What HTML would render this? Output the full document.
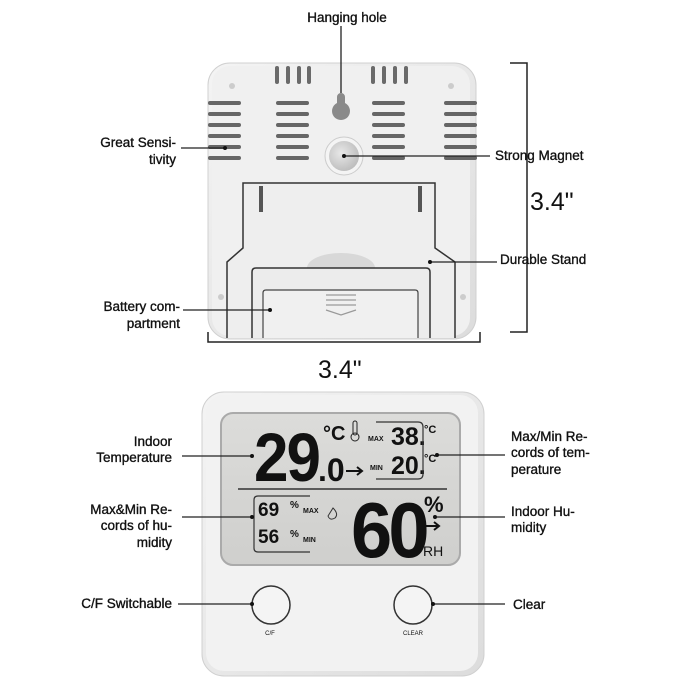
<!DOCTYPE html>
<html><head><meta charset="utf-8"><style>
html,body{margin:0;padding:0;background:#fff;}
svg{display:block;}
text{font-family:"Liberation Sans",sans-serif;fill:#111;}
.l{font-size:13.5px;stroke:#111;stroke-width:0.35px;}
</style></head><body>
<svg width="700" height="700" viewBox="0 0 700 700" xmlns="http://www.w3.org/2000/svg">
<defs>
<linearGradient id="bd" x1="0" y1="0" x2="1" y2="1"><stop offset="0" stop-color="#f4f4f4"/><stop offset="1" stop-color="#dcdcdc"/></linearGradient>
<radialGradient id="mg" cx="0.4" cy="0.4" r="0.7"><stop offset="0" stop-color="#e8e8e8"/><stop offset="1" stop-color="#b8b8b8"/></radialGradient>
<linearGradient id="lcd" x1="0" y1="0" x2="0" y2="1"><stop offset="0" stop-color="#dcdcda"/><stop offset="1" stop-color="#cfcfcd"/></linearGradient>
<g id="sl" fill="#666"><rect x="0" y="101" width="33" height="4" rx="2"/><rect x="0" y="112" width="33" height="4" rx="2"/><rect x="0" y="123" width="33" height="4" rx="2"/><rect x="0" y="134" width="33" height="4" rx="2"/><rect x="0" y="145" width="33" height="4" rx="2"/><rect x="0" y="156" width="33" height="4" rx="2"/></g>
</defs>
<!-- TOP DEVICE -->
<rect x="208" y="63" width="268" height="276" rx="22" fill="url(#bd)" stroke="#d0d0d0"/>
<rect x="212" y="66" width="258" height="270" rx="18" fill="#f0f0f0"/>
<g fill="#6a6a6a">
<rect x="275" y="66" width="4" height="18" rx="2"/><rect x="286" y="66" width="4" height="18" rx="2"/><rect x="297" y="66" width="4" height="18" rx="2"/><rect x="307" y="66" width="4" height="18" rx="2"/>
<rect x="371" y="66" width="4" height="18" rx="2"/><rect x="382" y="66" width="4" height="18" rx="2"/><rect x="393" y="66" width="4" height="18" rx="2"/><rect x="404" y="66" width="4" height="18" rx="2"/>
</g>
<use href="#sl" x="208"/><use href="#sl" x="276"/><use href="#sl" x="372"/><use href="#sl" x="444"/>
<circle cx="232" cy="86" r="3" fill="#ccc"/><circle cx="451" cy="86" r="3" fill="#ccc"/>
<circle cx="221" cy="297" r="3" fill="#ccc"/><circle cx="463" cy="297" r="3" fill="#ccc"/>
<path d="M341 93 a4 4 0 0 1 4 4 v6 a9 9 0 1 1 -8 0 v-6 a4 4 0 0 1 4 -4z" fill="#8a8a8a"/>
<circle cx="344" cy="156" r="19" fill="#f4f4f4" stroke="#ccc"/>
<circle cx="344" cy="156" r="15" fill="url(#mg)"/>
<path d="M227 338 V262 L243 248 V183 H435 V248 L455 262 V338" fill="#eeeeee" stroke="#333" stroke-width="1.5"/>
<rect x="259" y="186" width="4" height="26" fill="#555"/><rect x="418" y="186" width="4" height="26" fill="#555"/>
<ellipse cx="341" cy="268" rx="34" ry="15" fill="#d8d8d8"/>
<path d="M252 338 V272 q0 -4 4 -4 H426 q4 0 4 4 V338" fill="#ececec" stroke="#333" stroke-width="1.5"/>
<path d="M263 338 V293 q0 -3 3 -3 H415 q3 0 3 3 V338" fill="#f0f0f0" stroke="#444" stroke-width="1.2"/>
<g stroke="#999" stroke-width="1.2" fill="none"><path d="M326 295 H356 M326 300 H356 M326 305 H356 M326 310 L341 315 L356 310"/></g>
<!-- dimension lines -->
<g stroke="#222" stroke-width="1.5" fill="none">
<path d="M510 63 H527 V332 H510"/>
<path d="M208 332 V342 H480 V332"/>
</g>
<text x="530" y="210" style="font-size:25px">3.4"</text>
<text x="318" y="378" style="font-size:25px">3.4"</text>
<!-- BOTTOM DEVICE -->
<rect x="202" y="392" width="282" height="284" rx="22" fill="url(#bd)" stroke="#d0d0d0"/>
<rect x="206" y="395" width="272" height="276" rx="18" fill="#f2f2f2"/>
<rect x="221" y="413" width="239" height="152" rx="12" fill="url(#lcd)" stroke="#aaa" stroke-width="2"/>
<line x1="238" y1="489" x2="447" y2="489" stroke="#333" stroke-width="1.5"/>
<g font-weight="bold" fill="#111">
<text transform="translate(254 481) scale(1.0 1.1)" style="font-size:62px;letter-spacing:-2px">29</text>
<text x="318" y="481" style="font-size:32px">.0</text>
<text x="323" y="440" style="font-size:20px">°C</text>
<text x="391" y="445" style="font-size:25px">38.</text><text x="391" y="474" style="font-size:25px">20.</text>
<text x="424" y="433" style="font-size:11px">°C</text><text x="424" y="462" style="font-size:11px">°C</text>
<text x="258" y="516" style="font-size:19px">69</text><text x="258" y="543" style="font-size:19px">56</text>
<text x="290" y="508" style="font-size:10px">%</text><text x="290" y="537" style="font-size:10px">%</text>
<text transform="translate(351 557) scale(0.95 1)" style="font-size:78px;letter-spacing:-4px">60</text>
<text x="424" y="512" style="font-size:22px">%</text>
<text x="423" y="556" style="font-size:14px;font-weight:normal">RH</text>
<text x="368" y="441" style="font-size:7px">MAX</text><text x="370" y="470" style="font-size:7px">MIN</text>
<text x="303" y="513" style="font-size:7px">MAX</text><text x="303" y="542" style="font-size:7px">MIN</text>
</g>
<path d="M376 422 H418 q5 0 5 5 V474 q0 5 -5 5 H376" fill="none" stroke="#333" stroke-width="1.2"/>
<path d="M310 496 H258 q-4 0 -4 4 V548 q0 4 4 4 H310" fill="none" stroke="#333" stroke-width="1.2"/>
<g stroke="#111" stroke-width="2" fill="none"><path d="M346 471 H361 M357 467 L362 471 L357 475"/><path d="M425 526 H438 M434 522 L439 526 L434 530"/></g>
<rect x="353" y="421" width="4" height="14" rx="2" fill="none" stroke="#222"/><circle cx="355" cy="437" r="4" fill="none" stroke="#222"/>
<path d="M333 508 q6 6 2 10 q-5 3 -7 -2 z" fill="none" stroke="#333"/>
<circle cx="271" cy="605" r="19" fill="#f4f4f4" stroke="#333" stroke-width="1.5"/>
<circle cx="413" cy="605" r="19" fill="#f4f4f4" stroke="#333" stroke-width="1.5"/>
<text x="270" y="635" text-anchor="middle" style="font-size:6px">C/F</text>
<text x="413" y="635" text-anchor="middle" style="font-size:6px">CLEAR</text>
<!-- callout lines -->
<g stroke="#222" stroke-width="1.3">
<line x1="341" y1="26" x2="341" y2="93"/>
<line x1="181" y1="148" x2="225" y2="148"/>
<line x1="344" y1="156" x2="490" y2="156"/>
<line x1="430" y1="262" x2="497" y2="262"/>
<line x1="183" y1="310" x2="270" y2="310"/>
<line x1="182" y1="456" x2="252" y2="456"/>
<line x1="437" y1="455" x2="505" y2="455"/>
<line x1="182" y1="517" x2="252" y2="517"/>
<line x1="435" y1="517" x2="505" y2="517"/>
<line x1="178" y1="604" x2="252" y2="604"/>
<line x1="433" y1="604" x2="505" y2="604"/>
</g>
<g fill="#111"><circle cx="225" cy="148" r="2"/><circle cx="344" cy="156" r="2"/><circle cx="430" cy="262" r="2"/><circle cx="270" cy="310" r="2"/><circle cx="252" cy="456" r="2"/><circle cx="437" cy="455" r="2"/><circle cx="252" cy="517" r="2"/><circle cx="435" cy="517" r="2"/><circle cx="252" cy="604" r="2"/><circle cx="433" cy="604" r="2"/></g>
<!-- labels -->
<text class="l" x="347" y="22" text-anchor="middle">Hanging hole</text>
<text class="l" x="176" y="147" text-anchor="end">Great Sensi-</text>
<text class="l" x="176" y="164" text-anchor="end">tivity</text>
<text class="l" x="495" y="160">Strong Magnet</text>
<text class="l" x="500" y="264">Durable Stand</text>
<text class="l" x="180" y="311" text-anchor="end">Battery com-</text>
<text class="l" x="180" y="328" text-anchor="end">partment</text>
<text class="l" x="172" y="446" text-anchor="end">Indoor</text>
<text class="l" x="172" y="462" text-anchor="end">Temperature</text>
<text class="l" x="511" y="441">Max/Min Re-</text>
<text class="l" x="511" y="457">cords of tem-</text>
<text class="l" x="511" y="474">perature</text>
<text class="l" x="172" y="514" text-anchor="end">Max&amp;Min Re-</text>
<text class="l" x="172" y="530" text-anchor="end">cords of hu-</text>
<text class="l" x="172" y="547" text-anchor="end">midity</text>
<text class="l" x="511" y="516">Indoor Hu-</text>
<text class="l" x="511" y="532">midity</text>
<text class="l" x="172" y="608" text-anchor="end">C/F Switchable</text>
<text class="l" x="513" y="609">Clear</text>
</svg>
</body></html>
